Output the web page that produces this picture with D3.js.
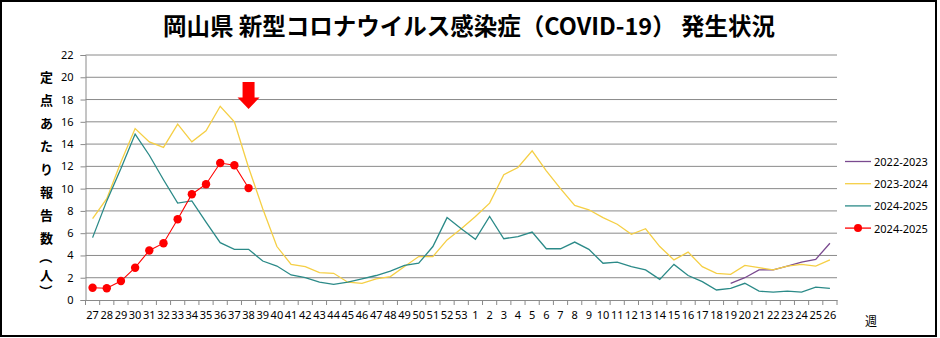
<!DOCTYPE html>
<html><head><meta charset="utf-8">
<script src="https://cdn.jsdelivr.net/npm/d3@7"></script>
<style>body{margin:0;background:#fff}svg{display:block}</style>
</head><body><svg id="c" width="940" height="338"></svg>
<script>
const title = "岡山県 新型コロナウイルス感染症（COVID-19） 発生状況";
const yTitle = ["定","点","あ","た","り","報","告","数","（","人","）"];
const xTitle = "週";
const weeks = ["27","28","29","30","31","32","33","34","35","36","37","38","39","40","41","42","43","44","45","46","47","48","49","50","51","52","53",
  "1","2","3","4","5","6","7","8","9","10","11","12","13","14","15","16","17","18","19","20","21","22","23","24","25","26"];
const yTicks = [0,2,4,6,8,10,12,14,16,18,20,22];
const seriesNames = ["2022-2023","2023-2024","2024-2025","2024-2025"];
const colors = ["#7a4a8f","#f5cf45","#2b8a88","#ff0000"];
const v2223 = [null,null,null,null,null,null,null,null,null,null,null,null,null,null,null,null,null,null,null,null,null,null,null,null,null,null,null,
  null,null,null,null,null,null,null,null,null,null,null,null,null,null,null,null,null,null,1.5,2.0,2.7,2.7,3.05,3.4,3.65,5.1];
const v2324 = [7.3,9.1,12.4,15.4,14.2,13.7,15.8,14.2,15.2,17.4,16.0,11.9,8.2,4.8,3.2,3.0,2.45,2.4,1.6,1.5,1.9,2.1,3.0,3.9,3.9,5.4,6.4,
  7.5,8.7,11.25,11.9,13.4,11.6,10.0,8.5,8.1,7.4,6.8,5.9,6.4,4.8,3.6,4.3,3.0,2.4,2.3,3.1,2.9,2.7,3.05,3.2,3.05,3.6];
const v2425 = [5.6,8.9,11.8,14.9,13.0,10.8,8.7,8.9,7.0,5.15,4.55,4.55,3.5,3.05,2.25,2.0,1.6,1.4,1.6,1.9,2.2,2.6,3.1,3.3,4.8,7.4,6.4,
  5.45,7.5,5.5,5.7,6.1,4.6,4.6,5.2,4.55,3.3,3.4,3.0,2.7,1.85,3.2,2.2,1.65,0.9,1.05,1.5,0.8,0.7,0.8,0.7,1.15,1.05];
const v2425b = [1.1,1.05,1.7,2.9,4.45,5.1,7.25,9.5,10.4,12.3,12.1,10.05];
const arrowWeek = "38";

const svg = d3.select("#c");
svg.append("rect").attr("x",1).attr("y",1).attr("width",935).attr("height",335)
  .attr("fill","#fff").attr("stroke","#000").attr("stroke-width",2);

const x = d3.scaleBand().domain(weeks).range([85.5, 837]).padding(0);
const y = d3.scaleLinear().domain([0,22]).range([300,55]);
const bw = x.bandwidth();
const cx = w => x(w) + bw/2;
const numFont = "'Noto Sans', 'Liberation Sans', sans-serif";
const cjkFont = "'Noto Sans CJK JP', sans-serif";

// title
svg.append("text").attr("x",469).attr("y",35).attr("text-anchor","middle")
  .attr("font-family",cjkFont).attr("font-weight","bold").attr("font-size",23.5)
  .attr("fill","#000").text(title);

// gridlines
svg.append("g").selectAll("line").data(yTicks.filter(d=>d>0)).join("line")
  .attr("x1",85.5).attr("x2",837).attr("y1",d=>y(d)).attr("y2",d=>y(d))
  .attr("stroke","#8a8a8a").attr("stroke-width",1);

// y axis
const ya = svg.append("g").attr("transform","translate(85.5,0)")
  .call(d3.axisLeft(y).tickValues(yTicks).tickSize(5).tickPadding(7));
ya.selectAll("path,line").attr("stroke","#8a8a8a");
ya.selectAll("text").attr("font-family",numFont).attr("font-size",11).attr("fill","#000");

// x axis
const xa = svg.append("g").attr("transform","translate(0,300)")
  .call(d3.axisBottom(x).tickSize(0).tickPadding(11.5));
xa.select("path").attr("stroke","#8a8a8a");
xa.selectAll("text").attr("font-family",numFont).attr("font-size",11).attr("fill","#000");
const bounds = weeks.map(w=>x(w)).concat([x.range()[1]]);
svg.append("g").selectAll("line").data(bounds).join("line")
  .attr("x1",d=>d).attr("x2",d=>d).attr("y1",300).attr("y2",305)
  .attr("stroke","#8a8a8a");

// vertical y-axis title: regular glyphs one step each, brackets rotated and half-step
const yt = svg.append("g").attr("font-family",cjkFont).attr("font-weight","bold")
  .attr("font-size",13).attr("fill","#000").attr("text-anchor","middle");
let yy = 76.7;
yTitle.forEach((ch,i)=>{
  const open = ch==="（", close = ch==="）";
  if (i>0) yy += open ? 20.3 : (close ? 17 : (yTitle[i-1]==="（" ? 17 : 22.9));
  const t = yt.append("text").attr("x",46.5).attr("y",yy).attr("dominant-baseline","central").text(ch);
  if (open || close) t.attr("transform",`rotate(90,46.5,${yy})`);
});
svg.append("text").attr("x",871).attr("y",326).attr("text-anchor","middle")
  .attr("font-family",cjkFont).attr("font-size",12).attr("fill","#000").text(xTitle);

// lines
const line = d3.line().defined(d=>d!=null).x((d,i)=>cx(weeks[i])).y(d=>y(d));
[v2223, v2324, v2425, v2425b].forEach((s,k)=>{
  svg.append("path").datum(s).attr("d",line).attr("fill","none")
    .attr("stroke",colors[k]).attr("stroke-width",k===3?1.1:1.3);
});
svg.append("g").selectAll("circle").data(v2425b).join("circle")
  .attr("cx",(d,i)=>cx(weeks[i])).attr("cy",d=>y(d)).attr("r",4.2).attr("fill",colors[3]);

// arrow
const ax = cx(arrowWeek);
svg.append("path").attr("fill","#ff0000").attr("d",
  `M${ax-6},82 L${ax+6},82 L${ax+6},97.5 L${ax+11},97.5 L${ax},109 L${ax-11},97.5 L${ax-6},97.5 Z`);

// legend
const lg = svg.append("g");
seriesNames.forEach((n,k)=>{
  const ly = 161.5 + k*22.2;
  lg.append("line").attr("x1",845).attr("x2",871).attr("y1",ly).attr("y2",ly)
    .attr("stroke",colors[k]).attr("stroke-width",1.3);
  if (k===3) lg.append("circle").attr("cx",858).attr("cy",ly).attr("r",4).attr("fill",colors[k]);
  lg.append("text").attr("x",874).attr("y",ly).attr("dominant-baseline","central")
    .attr("font-family",numFont).attr("font-size",11).attr("fill","#000").text(n);
});
</script></body></html>
